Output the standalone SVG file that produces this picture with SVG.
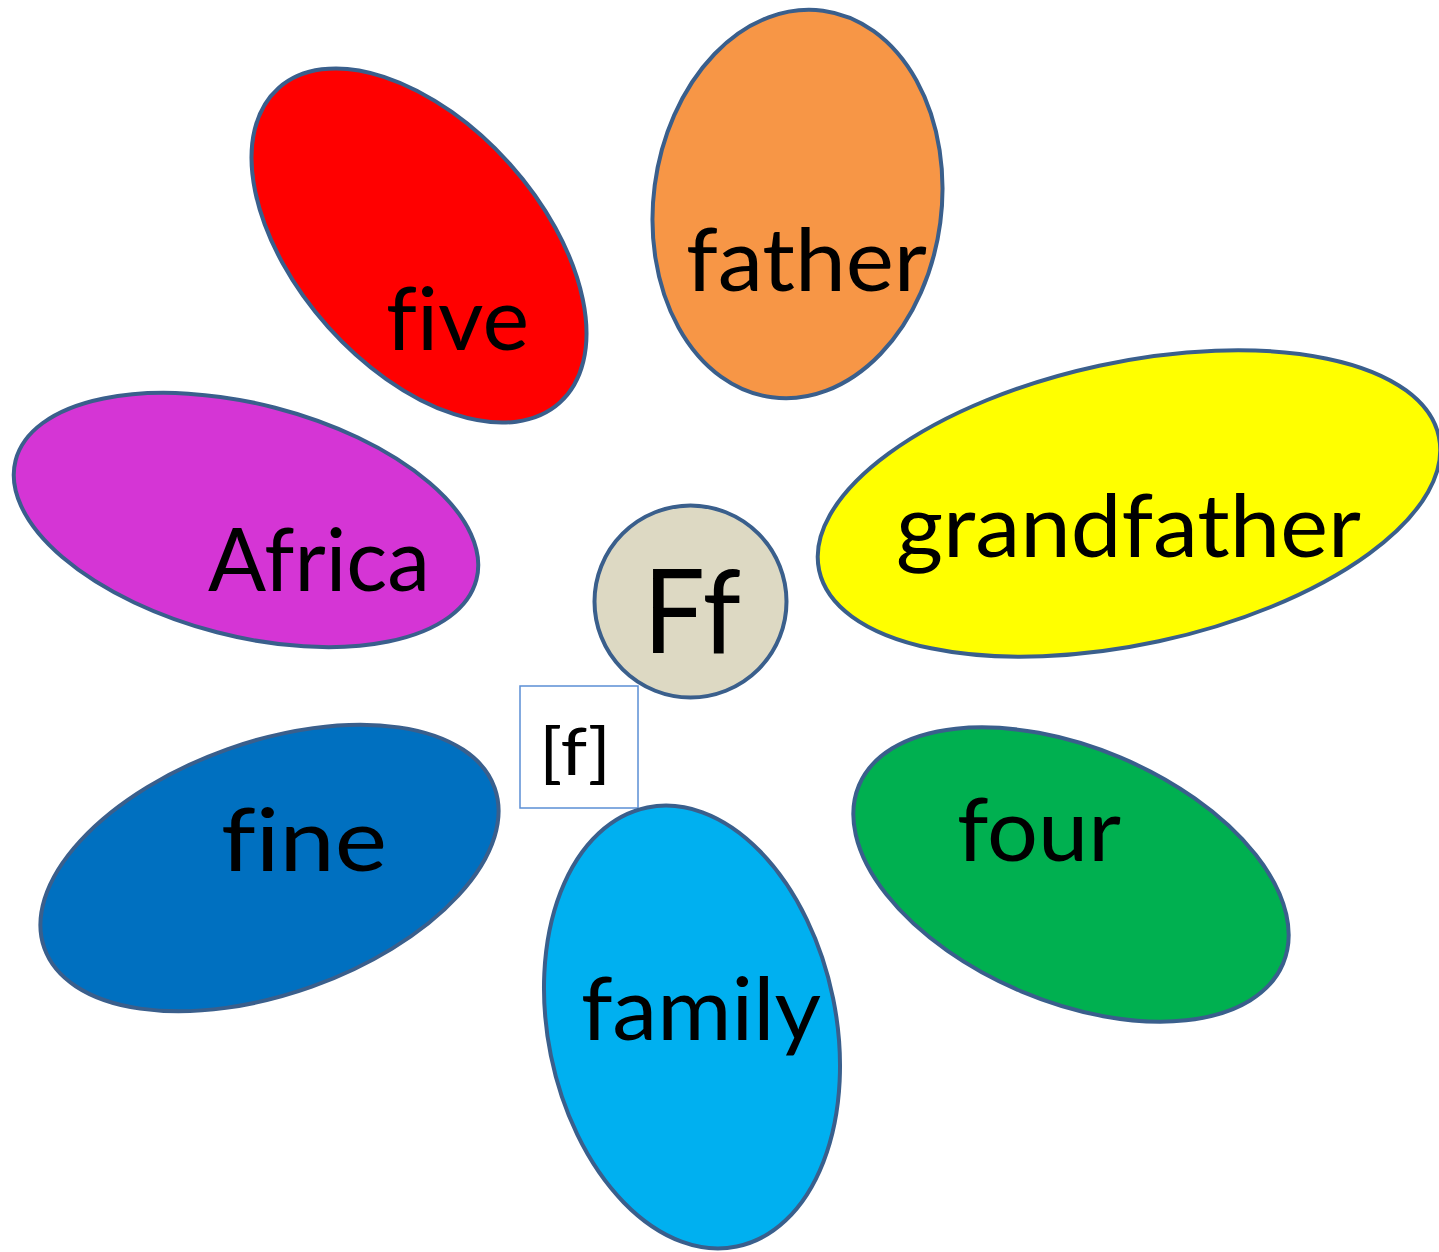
<svg xmlns="http://www.w3.org/2000/svg" width="1439" height="1252" viewBox="0 0 1439 1252">
<style>
.petal{stroke:#3A5F8C;stroke-width:4}
.lbl{font-family:Lato,"Open Sans","Noto Sans",sans-serif;font-size:88px;fill:#000;font-variant-ligatures:none;font-feature-settings:"liga" 0,"clig" 0}
</style>
<rect width="1439" height="1252" fill="#fff"/>
<g id="five">
<ellipse class="petal" cx="419" cy="245.5" rx="211" ry="122" transform="rotate(48.2 419 245.5)" fill="#FF0000"/>
<text class="lbl" x="386" y="350" textLength="143" lengthAdjust="spacingAndGlyphs">five</text>
</g>
<g id="father">
<ellipse class="petal" cx="797.5" cy="204" rx="144" ry="195" transform="rotate(7.5 797.5 204)" fill="#F79646"/>
<text class="lbl" x="686" y="291" textLength="241" lengthAdjust="spacingAndGlyphs">father</text>
</g>
<g id="africa">
<ellipse class="petal" cx="246" cy="520" rx="238" ry="116" transform="rotate(14.5 246 520)" fill="#D535D5"/>
<text class="lbl" x="208" y="591" textLength="222" lengthAdjust="spacingAndGlyphs">Africa</text>
</g>
<g id="grandfather">
<ellipse class="petal" cx="1129" cy="503.5" rx="317" ry="141" transform="rotate(-12.2 1129 503.5)" fill="#FFFF00"/>
<text class="lbl" x="896" y="557" textLength="465" lengthAdjust="spacingAndGlyphs">grandfather</text>
</g>
<g id="center">
<circle class="petal" cx="690.5" cy="601.5" r="96" fill="#DDD9C3"/>
<text class="lbl" x="643" y="653" style="font-size:117px" textLength="98" lengthAdjust="spacingAndGlyphs">Ff</text>
</g>
<g id="sound">
<rect x="520" y="686" width="118" height="122" fill="#fff" stroke="#5B8FD5" stroke-width="1.5"/>
<text class="lbl" x="539" y="775" style="font-size:66px" textLength="72" lengthAdjust="spacingAndGlyphs">[f]</text>
</g>
<g id="fine">
<ellipse class="petal" cx="269.5" cy="868" rx="239" ry="126" transform="rotate(-19.6 269.5 868)" fill="#0070C0"/>
<text class="lbl" x="221" y="871" textLength="166" lengthAdjust="spacingAndGlyphs">fine</text>
</g>
<g id="family">
<ellipse class="petal" cx="692" cy="1027" rx="144" ry="224" transform="rotate(-11.5 692 1027)" fill="#00B0F0"/>
<text class="lbl" x="581" y="1040" textLength="240" lengthAdjust="spacingAndGlyphs">family</text>
</g>
<g id="four">
<ellipse class="petal" cx="1071" cy="874.5" rx="230" ry="127" transform="rotate(22.8 1071 874.5)" fill="#00B050"/>
<text class="lbl" x="957" y="861" textLength="164" lengthAdjust="spacingAndGlyphs">four</text>
</g>
</svg>
